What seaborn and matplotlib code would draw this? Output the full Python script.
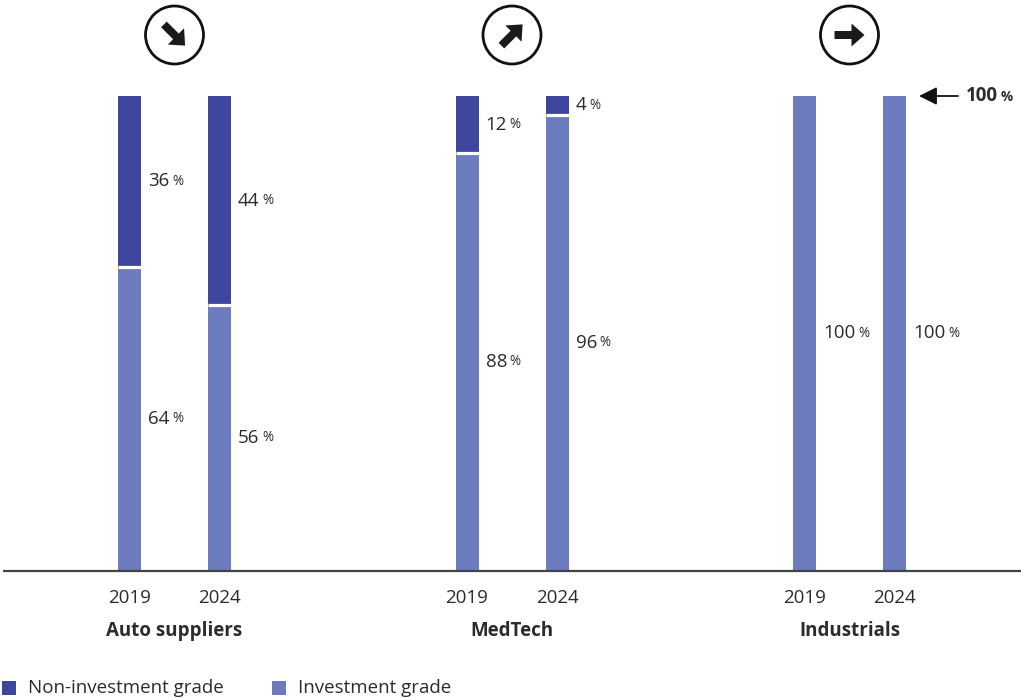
import matplotlib
matplotlib.use("Agg")
import matplotlib.pyplot as plt
from matplotlib.patches import Circle, FancyArrow
import seaborn as sns
import pandas as pd
import numpy as np

# ---------------- data ----------------
groups = ["Auto suppliers", "MedTech", "Industrials"]
years = ["2019", "2024"]
investment_grade = [64, 56, 88, 96, 100, 100]
non_investment_grade = [36, 44, 12, 4, 0, 0]
trend = ["down", "up", "flat"]
legend_labels = ["Non-investment grade", "Investment grade"]

# ---------------- style ----------------
DARK = "#3e469e"
LIGHT = "#6c7cbe"
TXT = "#2b2b2b"
sns.set_theme(style="white")
plt.rcParams["font.family"] = ["Open Sans", "DejaVu Sans"]

W, H = 1021, 698
fig = plt.figure(figsize=(W / 100, H / 100), dpi=100)

# layout (pixel units)
first_center = 174.5
group_step = 337.5
pair_gap = 90
bar_w = 23
base_px, top_px = 571, 96

ax = fig.add_axes([0, (H - base_px) / H, 1, (base_px - top_px) / H])

pos = []
for gi in range(len(groups)):
    c = first_center + gi * group_step
    pos += [c - pair_gap / 2, c + pair_gap / 2]
pos = np.array(pos)
total = np.array(investment_grade) + np.array(non_investment_grade)

df = pd.DataFrame({"pos": pos, "total": total, "inv": investment_grade,
                   "non": non_investment_grade})

width_frac = bar_w / pair_gap
sns.barplot(data=df, x="pos", y="total", native_scale=True, color=DARK,
            saturation=1, width=width_frac, errorbar=None, ax=ax, linewidth=0)
sns.barplot(data=df, x="pos", y="inv", native_scale=True, color=LIGHT,
            saturation=1, width=width_frac, errorbar=None, ax=ax, linewidth=0)

# white separators between segments
for p, iv, nv in zip(pos, investment_grade, non_investment_grade):
    if nv > 0 and iv > 0:
        ax.hlines(iv, p - bar_w / 2, p + bar_w / 2, color="white", lw=2.3, zorder=5)

ax.set_xlim(0, W)
ax.set_ylim(0, 100)
ax.set_axis_off()

FS = 13.5

# value labels
def pct_label(x, y, val, size=FS, weight="normal", axes=ax, **kw):
    t = axes.text(x, y, f"{val}", fontsize=size, color=TXT, ha="left",
                  va="center", fontweight=weight, **kw)
    axes.annotate("%", xy=(1, 0), xycoords=t, xytext=(2.0, 1.3),
                  textcoords="offset points", fontsize=size * 0.72,
                  color=TXT, ha="left", va="bottom", fontweight=weight)
    return t

for p, iv, nv in zip(pos, investment_grade, non_investment_grade):
    xl = p + bar_w / 2 + 7
    if iv > 0:
        pct_label(xl, iv / 2, iv)
    if nv > 0:
        pct_label(xl, iv + nv / 2, nv)

# overlay in pixel coordinates
ov = fig.add_axes([0, 0, 1, 1], facecolor="none")
ov.set_xlim(0, W)
ov.set_ylim(H, 0)
ov.set_axis_off()

# baseline
ov.plot([3, W], [base_px, base_px], color="#444444", lw=1.6, solid_capstyle="butt")

# year and group labels
for i, p in enumerate(pos):
    ov.text(p, 598, years[i % 2], fontsize=FS, color=TXT, ha="center", va="center")
for gi, g in enumerate(groups):
    c = first_center + gi * group_step
    ov.text(c, 631, g, fontsize=FS, color=TXT, ha="center", va="center",
            fontweight="bold")
    # trend circle with arrow
    cy = 35
    ov.add_patch(Circle((c, cy), 29, fill=False, lw=2.0, ec="#111111"))
    L = 30
    if trend[gi] == "down":
        d = np.array([1, 1]) / np.sqrt(2)
    elif trend[gi] == "up":
        d = np.array([1, -1]) / np.sqrt(2)
    else:
        d = np.array([1, 0])
    start = np.array([c, cy]) - d * L / 2
    ov.add_patch(FancyArrow(start[0], start[1], d[0] * L, d[1] * L, width=8,
                            head_width=23, head_length=13,
                            length_includes_head=True, color="#1a1a1a", lw=0))

# 100% marker on the right
ov.annotate("", xy=(919, 96), xytext=(958, 96),
            arrowprops=dict(arrowstyle="-|>,head_length=0.9,head_width=0.45",
                            color="#111111", lw=1.3, shrinkA=0, shrinkB=0))
pct_label(966, 96, 100, size=FS, weight="bold", axes=ov)

# legend
for i, (lab, col, x0) in enumerate(zip(legend_labels, [DARK, LIGHT], [2, 272])):
    ov.add_patch(plt.Rectangle((x0, 681), 14, 14, color=col, lw=0))
    ov.text(x0 + 26, 688, lab, fontsize=FS, color=TXT, ha="left", va="center")

fig.savefig("out.png", dpi=100)
